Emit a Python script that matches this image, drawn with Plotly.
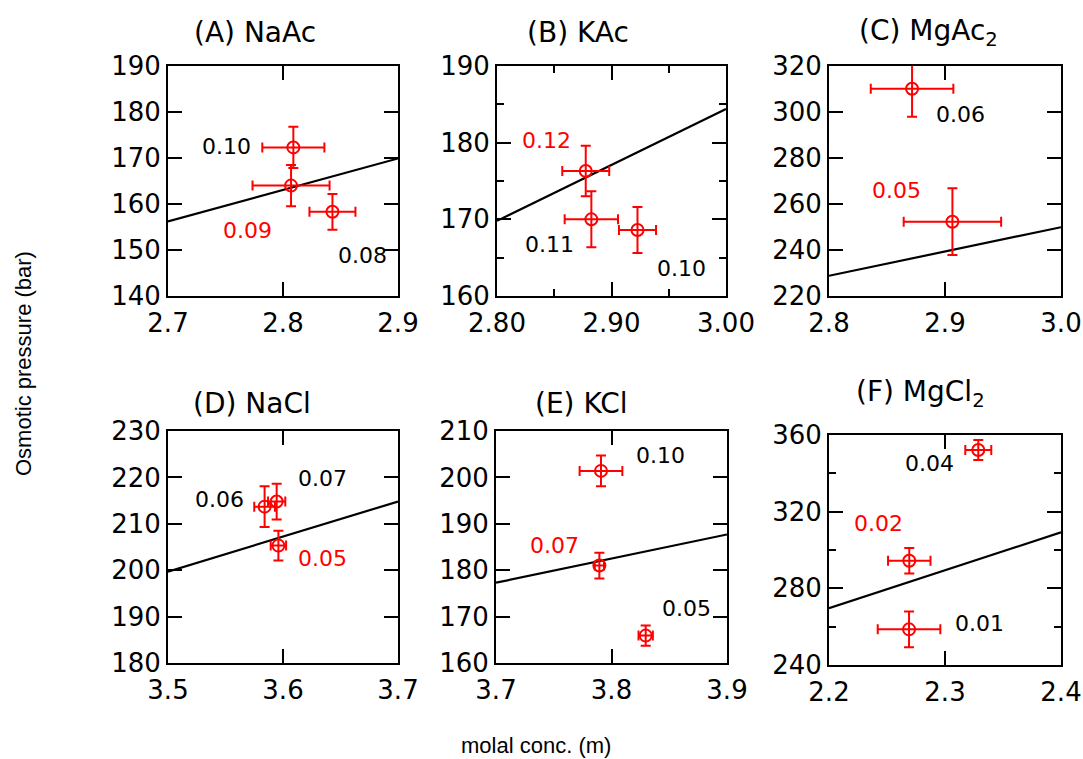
import plotly.graph_objects as go

W, H = 1083, 759

# ---------------- data ----------------
titles = ["(A) NaAc", "(B) KAc", "(C) MgAc<sub>2</sub>",
          "(D) NaCl", "(E) KCl", "(F) MgCl<sub>2</sub>"]

# A NaAc
a_x = [2.809, 2.807, 2.843]
a_y = [172.3, 164.0, 158.3]
a_xerr = [0.027, 0.0335, 0.020]
a_yerr = [4.5, 4.5, 3.9]
a_fit_x = [2.7, 2.9]
a_fit_y = [156.2, 169.9]
a_lab = ["0.10", "0.09", "0.08"]
a_lab_x = [2.751, 2.769, 2.869]
a_lab_y = [172.6, 154.3, 148.9]
a_lab_red = [False, True, False]

# B KAc
b_x = [2.8775, 2.8824, 2.9227]
b_y = [176.3, 170.0, 168.6]
b_xerr = [0.0205, 0.0233, 0.0162]
b_yerr = [3.3, 3.65, 3.0]
b_fit_x = [2.8, 3.0]
b_fit_y = [169.8, 184.4]
b_lab = ["0.12", "0.11", "0.10"]
b_lab_x = [2.843, 2.846, 2.961]
b_lab_y = [180.3, 166.7, 163.6]
b_lab_red = [True, False, False]

# C MgAc2
c_x = [2.8716, 2.9064]
c_y = [310.1, 252.3]
c_xerr = [0.0356, 0.042]
c_yerr = [12.2, 14.5]
c_fit_x = [2.8, 3.0]
c_fit_y = [228.8, 249.9]
c_lab = ["0.06", "0.05"]
c_lab_x = [2.913, 2.858]
c_lab_y = [299.1, 265.8]
c_lab_red = [False, True]

# D NaCl
d_x = [3.584, 3.5945, 3.596]
d_y = [213.7, 214.8, 205.3]
d_xerr = [0.009, 0.0075, 0.0067]
d_yerr = [4.4, 3.85, 3.2]
d_fit_x = [3.5, 3.7]
d_fit_y = [199.7, 214.8]
d_lab = ["0.06", "0.07", "0.05"]
d_lab_x = [3.545, 3.634, 3.634]
d_lab_y = [215.3, 219.8, 202.6]
d_lab_red = [False, False, True]

# E KCl
e_x = [3.7909, 3.7895, 3.8296]
e_y = [201.4, 181.0, 165.9]
e_xerr = [0.0185, 0.004, 0.0062]
e_yerr = [3.3, 2.77, 2.2]
e_fit_x = [3.7, 3.9]
e_fit_y = [177.3, 187.7]
e_lab = ["0.10", "0.07", "0.05"]
e_lab_x = [3.8426, 3.751, 3.865]
e_lab_y = [204.8, 185.4, 171.8]
e_lab_red = [False, True, False]

# F MgCl2
f_x = [2.3287, 2.2692, 2.269]
f_y = [352.2, 294.4, 258.6]
f_xerr = [0.0112, 0.0183, 0.027]
f_yerr = [5.2, 6.7, 9.3]
f_fit_x = [2.2, 2.4]
f_fit_y = [269.6, 309.2]
f_lab = ["0.04", "0.02", "0.01"]
f_lab_x = [2.287, 2.2425, 2.3297]
f_lab_y = [345.2, 313.6, 261.8]
f_lab_red = [False, True, False]

# axis ranges / ticks
x_ranges = [[2.7, 2.9], [2.8, 3.0], [2.8, 3.0], [3.5, 3.7], [3.7, 3.9], [2.2, 2.4]]
y_ranges = [[140, 190], [160, 190], [220, 320], [180, 230], [160, 210], [240, 360]]
x_dtick = [0.1, 0.1, 0.1, 0.1, 0.1, 0.1]
x_minor = [None, 0.05, None, None, None, None]
x_fmt = [".1f", ".2f", ".1f", ".1f", ".1f", ".1f"]
y_dtick = [10, 10, 20, 10, 10, 40]
y_minor = [None, 5, None, None, None, 20]

x_axis_title = "molal conc. (m)"
y_axis_title = "Osmotic pressure (bar)"

# ---------------- layout geometry (pixels) ----------------
boxes = [  # x0, x1, y0(top), y1(bottom)
    (168, 398, 66, 296),
    (497, 726, 66, 296),
    (829, 1061, 66, 296),
    (168, 398, 431, 663),
    (496, 727, 431, 663),
    (829, 1061, 435, 665),
]
title_pos = [(255, 33), (578, 33), (928, 33), (252, 403), (581, 403), (920, 393)]

panels = [
    (a_x, a_y, a_xerr, a_yerr, a_fit_x, a_fit_y, a_lab, a_lab_x, a_lab_y, a_lab_red),
    (b_x, b_y, b_xerr, b_yerr, b_fit_x, b_fit_y, b_lab, b_lab_x, b_lab_y, b_lab_red),
    (c_x, c_y, c_xerr, c_yerr, c_fit_x, c_fit_y, c_lab, c_lab_x, c_lab_y, c_lab_red),
    (d_x, d_y, d_xerr, d_yerr, d_fit_x, d_fit_y, d_lab, d_lab_x, d_lab_y, d_lab_red),
    (e_x, e_y, e_xerr, e_yerr, e_fit_x, e_fit_y, e_lab, e_lab_x, e_lab_y, e_lab_red),
    (f_x, f_y, f_xerr, f_yerr, f_fit_x, f_fit_y, f_lab, f_lab_x, f_lab_y, f_lab_red),
]

RED = "#ff0000"
TICKFONT = dict(family="DejaVu Sans", size=26, color="black")
LABFONT = "DejaVu Sans"

fig = go.Figure()
annotations = []
layout = {}

for i, (px, py, pxe, pye, fx, fy, lab, lx, ly, lred) in enumerate(panels):
    n = i + 1
    xa = "x" if n == 1 else f"x{n}"
    ya = "y" if n == 1 else f"y{n}"
    xkey = "xaxis" if n == 1 else f"xaxis{n}"
    ykey = "yaxis" if n == 1 else f"yaxis{n}"
    x0, x1, y0, y1 = boxes[i]

    fig.add_trace(go.Scatter(
        x=fx, y=fy, mode="lines", line=dict(color="black", width=2.2),
        xaxis=xa, yaxis=ya, showlegend=False, hoverinfo="skip"))
    fig.add_trace(go.Scatter(
        x=px, y=py, mode="markers",
        marker=dict(symbol="circle-open", size=12, color=RED, line=dict(width=2, color=RED)),
        error_x=dict(type="data", array=pxe, color=RED, thickness=2, width=5),
        error_y=dict(type="data", array=pye, color=RED, thickness=2, width=5),
        xaxis=xa, yaxis=ya, showlegend=False))

    xdict = dict(domain=[x0 / W, x1 / W], anchor=ya, range=x_ranges[i],
                 dtick=x_dtick[i], tickformat=x_fmt[i],
                 ticks="inside", ticklen=14, tickwidth=2, tickcolor="black",
                 showline=True, mirror="ticks", linecolor="black", linewidth=2,
                 showgrid=False, zeroline=False, tickfont=TICKFONT,
                 ticklabelstandoff=3)
    ydict = dict(domain=[1 - y1 / H, 1 - y0 / H], anchor=xa, range=y_ranges[i],
                 dtick=y_dtick[i],
                 ticks="inside", ticklen=14, tickwidth=2, tickcolor="black",
                 showline=True, mirror="ticks", linecolor="black", linewidth=2,
                 showgrid=False, zeroline=False, tickfont=TICKFONT)
    if x_minor[i]:
        xdict["minor"] = dict(dtick=x_minor[i], ticks="inside", ticklen=7,
                              tickwidth=2, tickcolor="black")
    if y_minor[i]:
        ydict["minor"] = dict(dtick=y_minor[i], ticks="inside", ticklen=7,
                              tickwidth=2, tickcolor="black")
    layout[xkey] = xdict
    layout[ykey] = ydict

    for t, tx, ty, red in zip(lab, lx, ly, lred):
        annotations.append(dict(
            x=tx, y=ty, xref=xa, yref=ya, text=t, showarrow=False,
            font=dict(family=LABFONT, size=22, color=RED if red else "black"),
            xanchor="center", yanchor="middle"))

    tpx, tpy = title_pos[i]
    annotations.append(dict(
        x=tpx / W, y=1 - tpy / H, xref="paper", yref="paper", text=titles[i],
        showarrow=False, font=dict(family=LABFONT, size=28, color="black"),
        xanchor="center", yanchor="middle"))

annotations.append(dict(
    x=536 / W, y=1 - 745 / H, xref="paper", yref="paper", text=x_axis_title,
    showarrow=False, font=dict(family="Liberation Sans", size=22, color="black"),
    xanchor="center", yanchor="middle"))
annotations.append(dict(
    x=23 / W, y=1 - 364 / H, xref="paper", yref="paper", text=y_axis_title,
    showarrow=False, textangle=-90,
    font=dict(family="Liberation Sans", size=22, color="black"),
    xanchor="center", yanchor="middle"))

fig.update_layout(
    template="none",
    width=W, height=H, margin=dict(l=0, r=0, t=0, b=0, autoexpand=False),
    annotations=annotations, showlegend=False, **layout)

fig.write_html("out.html", config={"displayModeBar": False},
               post_script="document.body.style.margin='0';document.body.style.overflow='hidden';")
